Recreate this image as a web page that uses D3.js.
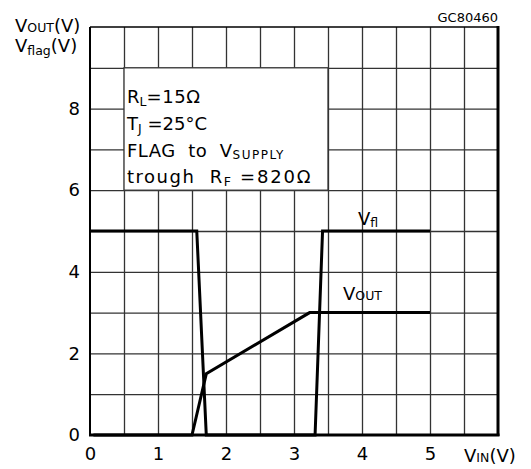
<!DOCTYPE html>
<html>
<head>
<meta charset="utf-8">
<script src="https://cdn.jsdelivr.net/npm/d3@7"></script>
<style>
  body { margin: 0; background: #fff; }
  text { font-family: "DejaVu Sans", sans-serif; fill: #000; white-space: pre; }
</style>
</head>
<body>
<div id="chart"></div>
<script>
var w = 531;
var h = 469;

// V_flag curve
var vinFlag = [0, 1.57, 1.71, 3.31, 3.42, 5];
var vFlag = [5, 5, 0, 0, 5, 5];
// V_out curve
var vinOut = [0.05, 1.5, 1.71, 3.23, 5];
var vOut = [0, 0, 1.5, 3, 3];

var xTicks = [0, 1, 2, 3, 4, 5];
var yTicks = [0, 2, 4, 6, 8];
var xGrid = [0.5, 1, 1.5, 2, 2.5, 3, 3.5, 4, 4.5, 5, 5.5];
var yGrid = [1, 2, 3, 4, 5, 6, 7, 8, 9];

var x = d3.scaleLinear().domain([0, 6]).range([90, 498]);
var y = d3.scaleLinear().domain([0, 10]).range([435, 27]);

var svg = d3.select("#chart").append("svg")
  .attr("width", w)
  .attr("height", h);

// grid
svg.append("g")
  .attr("transform", "translate(0," + y(0) + ")")
  .call(d3.axisBottom(x).tickValues(xGrid).tickSize(-(y(0) - y(10))).tickFormat(""))
  .call(function(g) {
    g.select(".domain").remove();
    g.selectAll("line").attr("stroke", "#333").attr("stroke-width", 1.3);
  });

svg.append("g")
  .attr("transform", "translate(" + x(0) + ",0)")
  .call(d3.axisLeft(y).tickValues(yGrid).tickSize(-(x(6) - x(0))).tickFormat(""))
  .call(function(g) {
    g.select(".domain").remove();
    g.selectAll("line").attr("stroke", "#333").attr("stroke-width", 1.3);
  });

// white box for the conditions text
svg.append("rect")
  .attr("x", x(0.5))
  .attr("y", y(9))
  .attr("width", x(3.5) - x(0.5))
  .attr("height", y(6) - y(9))
  .attr("fill", "#fff")
  .attr("stroke", "#333")
  .attr("stroke-width", 1.3);

// frame
svg.append("line").attr("x1", x(0)).attr("x2", x(6)).attr("y1", y(10)).attr("y2", y(10))
  .attr("stroke", "#000").attr("stroke-width", 1.5);
svg.append("line").attr("x1", x(0)).attr("x2", x(0)).attr("y1", y(10)).attr("y2", y(0))
  .attr("stroke", "#000").attr("stroke-width", 2);
svg.append("line").attr("x1", x(6)).attr("x2", x(6)).attr("y1", y(10) - 1).attr("y2", y(0) + 1)
  .attr("stroke", "#000").attr("stroke-width", 3);
svg.append("line").attr("x1", x(0) - 1).attr("x2", x(6) + 1.5).attr("y1", y(0)).attr("y2", y(0))
  .attr("stroke", "#000").attr("stroke-width", 3);

// tick labels
svg.append("g")
  .attr("transform", "translate(0," + y(0) + ")")
  .call(d3.axisBottom(x).tickValues(xTicks).tickSize(0).tickPadding(12).tickFormat(d3.format("d")))
  .call(function(g) {
    g.select(".domain").remove();
    g.selectAll("text").attr("font-size", 18).attr("font-family", "DejaVu Sans").attr("fill", "#000");
  });

svg.append("g")
  .attr("transform", "translate(" + x(0) + ",0)")
  .call(d3.axisLeft(y).tickValues(yTicks).tickSize(0).tickPadding(10).tickFormat(d3.format("d")))
  .call(function(g) {
    g.select(".domain").remove();
    g.selectAll("text").attr("font-size", 18).attr("font-family", "DejaVu Sans").attr("fill", "#000");
  });

// curves
var line = d3.line()
  .x(function(d) { return x(d[0]); })
  .y(function(d) { return y(d[1]); });

svg.append("path")
  .datum(d3.zip(vinFlag, vFlag))
  .attr("d", line)
  .attr("fill", "none")
  .attr("stroke", "#000")
  .attr("stroke-width", 3)
  .attr("stroke-linejoin", "miter");

svg.append("path")
  .datum(d3.zip(vinOut, vOut))
  .attr("d", line)
  .attr("fill", "none")
  .attr("stroke", "#000")
  .attr("stroke-width", 3)
  .attr("stroke-linejoin", "miter");

// text built from parts: [text, size, dy, letterSpacing]
function label(px, py, parts, size) {
  var t = svg.append("text").attr("x", px).attr("y", py).attr("font-size", size);
  parts.forEach(function(p) {
    var s = t.append("tspan").text(p[0]);
    if (p[1]) s.attr("font-size", p[1]);
    if (p[2]) s.attr("dy", p[2]);
    if (p[3]) s.attr("letter-spacing", p[3]);
  });
  return t;
}

// axis titles
label(15, 32, [["V"], ["OUT", 12.5], ["(V)", 18]], 18);
label(15, 52, [["V"], ["flag", 12.5, 3], ["(V)", 18, -3]], 18);
label(464, 462, [["V"], ["IN", 12.5], ["(V)", 18]], 18);

svg.append("text")
  .attr("x", 498).attr("y", 22)
  .attr("text-anchor", "end")
  .attr("font-size", 13)
  .text("GC80460");

// conditions
label(127, 103, [["R"], ["L", 12.5, 3], ["=15\u03a9", 18, -3, 0.6]], 18);
label(127, 130, [["T"], ["J", 12.5, 3], [" =25\u00b0C", 18, -3]], 18);
label(127, 157, [["FLAG  to  V", 18, 0, 0.5], ["SUPPLY", 12, 2, 1.5]], 18);
label(127, 183, [["trough  R", 18, 0, 1.5], ["F", 12.5, 3, 1.5], [" =820\u03a9", 18, -3, 1.8]], 18);

// curve labels
label(358, 225, [["V"], ["fl", 12.5, 2]], 18);
label(343, 300, [["V"], ["OUT", 12.5]], 18);
</script>
</body>
</html>
